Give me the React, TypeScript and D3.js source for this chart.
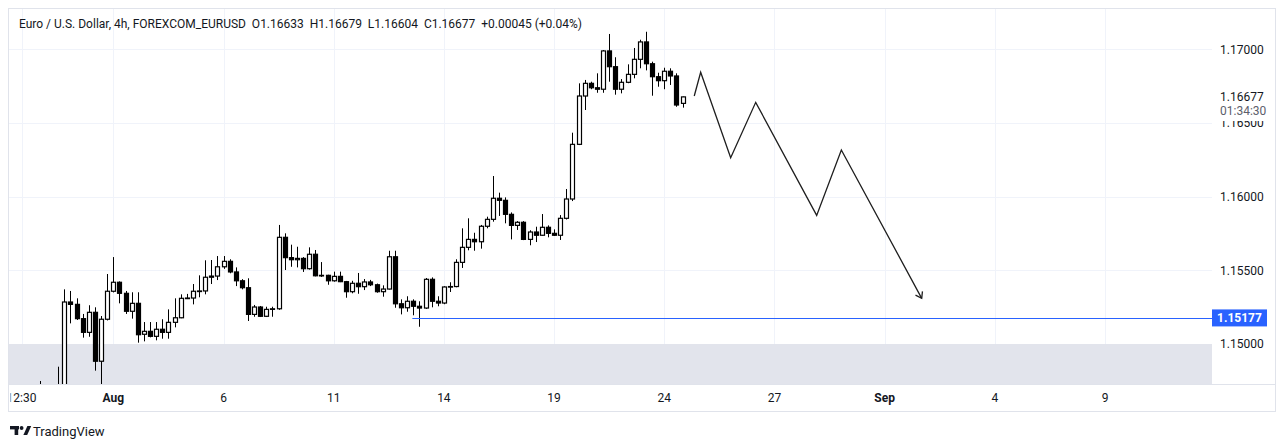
import React, { useEffect, useRef } from 'react';
import * as d3 from 'd3';

// 4h candles, bar index 0 = first bar on screen (the first few sit below the visible range)
const opens = [
  1.1432, 1.1425, 1.1418, 1.1409, 1.1414, 1.1441, 1.1437, 1.1431, 1.1405, 1.15285,
  1.15269, 1.15172, 1.15079, 1.15215, 1.14883, 1.15168, 1.15358, 1.15419, 1.15344, 1.15222,
  1.15276, 1.15066, 1.15086, 1.15052, 1.15100, 1.15079, 1.15147, 1.15178, 1.15310, 1.15312,
  1.15358, 1.15360, 1.15453, 1.15461, 1.15524, 1.15561, 1.15489, 1.15429, 1.15382, 1.15201,
  1.15251, 1.15188, 1.15235, 1.15239, 1.15724, 1.15586, 1.15572, 1.15581, 1.15511, 1.15609,
  1.15463, 1.15466, 1.15429, 1.15459, 1.15423, 1.15355, 1.15412, 1.15389, 1.15421, 1.15402,
  1.15355, 1.15373, 1.15592, 1.15273, 1.15246, 1.15290, 1.15256, 1.15244, 1.15439, 1.15290,
  1.15278, 1.15387, 1.15390, 1.15554, 1.15656, 1.15710, 1.15694, 1.15799, 1.15846, 1.15989,
  1.15975, 1.15880, 1.15805, 1.15826, 1.15710, 1.15760, 1.15738, 1.15792, 1.15751, 1.15738,
  1.15853, 1.15984, 1.16355, 1.16683, 1.16769, 1.16739, 1.16729, 1.16989, 1.16882, 1.16729,
  1.16776, 1.16830, 1.16932, 1.17050, 1.16902, 1.16814, 1.16787, 1.16851, 1.16819, 1.16633,
];
const highs = [
  1.1441, 1.1436, 1.1430, 1.1420, 1.14749, 1.1462, 1.1450, 1.14846, 1.15371, 1.15360,
  1.15310, 1.15204, 1.15263, 1.15249, 1.15190, 1.15475, 1.15590, 1.15425, 1.15360, 1.15351,
  1.15351, 1.15149, 1.15149, 1.15149, 1.15168, 1.15235, 1.15310, 1.15337, 1.15340, 1.15407,
  1.15466, 1.15568, 1.15570, 1.15597, 1.15597, 1.15575, 1.15520, 1.15440, 1.15446, 1.15265,
  1.15258, 1.15253, 1.15253, 1.15808, 1.15751, 1.15674, 1.15660, 1.15590, 1.15656, 1.15638,
  1.15556, 1.15470, 1.15491, 1.15491, 1.15428, 1.15429, 1.15482, 1.15441, 1.15435, 1.15410,
  1.15398, 1.15633, 1.15633, 1.15303, 1.15324, 1.15303, 1.15290, 1.15448, 1.15452, 1.15324,
  1.15392, 1.15419, 1.15575, 1.15785, 1.15853, 1.15755, 1.15808, 1.15864, 1.16140, 1.16027,
  1.15995, 1.15893, 1.15834, 1.15834, 1.15772, 1.15796, 1.15882, 1.15805, 1.15778, 1.15875,
  1.16052, 1.16434, 1.16769, 1.16792, 1.16780, 1.16837, 1.16995, 1.17104, 1.16946, 1.16798,
  1.16898, 1.17009, 1.17065, 1.17119, 1.16916, 1.16841, 1.16875, 1.16871, 1.16837, 1.16679,
];
const lows = [
  1.1421, 1.1412, 1.1401, 1.1392, 1.1408, 1.1430, 1.1422, 1.1396, 1.1398, 1.15140,
  1.15163, 1.15043, 1.15049, 1.14819, 1.1465, 1.15160, 1.15350, 1.15276, 1.15204, 1.15172,
  1.15009, 1.15018, 1.15045, 1.15025, 1.15036, 1.15036, 1.15113, 1.15175, 1.15305, 1.15269,
  1.15317, 1.15337, 1.15407, 1.15434, 1.15510, 1.15480, 1.15393, 1.15371, 1.15156, 1.15185,
  1.15183, 1.15183, 1.15185, 1.15232, 1.15502, 1.15524, 1.15520, 1.15489, 1.15505, 1.15459,
  1.15455, 1.15402, 1.15423, 1.15420, 1.15314, 1.15344, 1.15341, 1.15366, 1.15393, 1.15348,
  1.15321, 1.15370, 1.15246, 1.15201, 1.15219, 1.15195, 1.15117, 1.15238, 1.15249, 1.15256,
  1.15270, 1.15353, 1.15385, 1.15516, 1.15636, 1.15633, 1.15647, 1.15785, 1.15830, 1.15869,
  1.15819, 1.15710, 1.15774, 1.15705, 1.15670, 1.15692, 1.15735, 1.15724, 1.15733, 1.15706,
  1.15845, 1.15970, 1.16350, 1.16588, 1.16729, 1.16705, 1.16705, 1.16780, 1.16692, 1.16701,
  1.16770, 1.16803, 1.16871, 1.16857, 1.16685, 1.16746, 1.16729, 1.16758, 1.16610, 1.16604,
];
const closes = [
  1.1425, 1.1418, 1.1409, 1.1414, 1.1441, 1.1437, 1.1431, 1.1405, 1.15285, 1.15269,
  1.15172, 1.15079, 1.15215, 1.14883, 1.15168, 1.15358, 1.15419, 1.15344, 1.15222, 1.15276,
  1.15063, 1.15086, 1.15052, 1.15100, 1.15079, 1.15147, 1.15178, 1.15310, 1.15312, 1.15358,
  1.15360, 1.15453, 1.15461, 1.15524, 1.15561, 1.15489, 1.15429, 1.15382, 1.15201, 1.15251,
  1.15188, 1.15235, 1.15239, 1.15724, 1.15586, 1.15572, 1.15581, 1.15511, 1.15609, 1.15463,
  1.15466, 1.15429, 1.15459, 1.15423, 1.15355, 1.15412, 1.15389, 1.15421, 1.15402, 1.15355,
  1.15373, 1.15592, 1.15273, 1.15246, 1.15290, 1.15256, 1.15244, 1.15439, 1.15290, 1.15278,
  1.15387, 1.15390, 1.15554, 1.15656, 1.15710, 1.15694, 1.15799, 1.15846, 1.15989, 1.15975,
  1.15880, 1.15805, 1.15826, 1.15710, 1.15760, 1.15738, 1.15792, 1.15751, 1.15738, 1.15853,
  1.15984, 1.16355, 1.16683, 1.16769, 1.16739, 1.16729, 1.16989, 1.16882, 1.16729, 1.16776,
  1.16830, 1.16932, 1.17050, 1.16902, 1.16814, 1.16787, 1.16851, 1.16819, 1.16622, 1.16677,
];

// time axis
const timeTickIndex = [1, 16, 34, 52, 70, 88, 106, 124, 142, 160, 178];
const timeTickLabels = ['12:30', 'Aug', '6', '11', '14', '19', '24', '27', 'Sep', '4', '9'];
const monthLabels = ['Aug', 'Sep'];

// price axis
const priceTicks = [1.15, 1.155, 1.16, 1.165, 1.17];

// hand-drawn projection (bar index, price)
const zigIndex = [110.9, 111.95, 116.85, 120.94, 130.9, 134.93, 148.06];
const zigPrice = [1.16683, 1.16844, 1.16264, 1.1664, 1.15873, 1.16317, 1.1531];

// horizontal ray
const levelPrice = 1.15177;
const levelStartIndex = 64.85;
const zoneTop = 1.15;

const lastPrice = '1.16677';
const countdown = '01:34:30';
const titleText = 'Euro / U.S. Dollar, 4h, FOREXCOM_EURUSD  O1.16633  H1.16679  L1.16604  C1.16677  +0.00045 (+0.04%)';

const W = 1286;
const H = 447;
const FONT = 'Roboto, "Noto Sans", sans-serif';
const TEXT = '#131722';

const App: React.FC = () => {
  const svgRef = useRef<SVGSVGElement>(null);

  useEffect(() => {
    if (!svgRef.current) return;
    const svg = d3.select(svgRef.current);
    svg.selectAll('*').remove();

    const plot = { left: 9, top: 9, right: 1212, bottom: 384 };

    const x = d3.scaleLinear().domain([1, 178]).range([21.5, 1105]);
    const y = d3.scaleLinear().domain([1.15, 1.17]).range([344, 49.3]);
    const crisp = (v: number) => Math.round(v) + 0.5;

    svg.append('rect').attr('width', W).attr('height', H).attr('fill', '#fff');

    // chart frame
    svg.append('rect')
      .attr('x', 8.5).attr('y', 8.5)
      .attr('width', 1267).attr('height', 403)
      .attr('fill', 'none').attr('stroke', '#e0e3eb');

    const defs = svg.append('defs');
    defs.append('clipPath').attr('id', 'plotClip')
      .append('rect')
      .attr('x', plot.left).attr('y', plot.top)
      .attr('width', plot.right - plot.left).attr('height', plot.bottom - plot.top);
    defs.append('clipPath').attr('id', 'axisClip')
      .append('rect')
      .attr('x', 10.5).attr('y', plot.bottom)
      .attr('width', plot.right - 10.5).attr('height', 27);

    const g = svg.append('g').attr('clip-path', 'url(#plotClip)');

    // grid
    g.selectAll('line.vgrid')
      .data(timeTickIndex)
      .enter().append('line')
      .attr('x1', d => crisp(x(d))).attr('x2', d => crisp(x(d)))
      .attr('y1', plot.top).attr('y2', plot.bottom)
      .attr('stroke', '#f0f3fa');
    g.selectAll('line.hgrid')
      .data(priceTicks)
      .enter().append('line')
      .attr('x1', plot.left).attr('x2', plot.right)
      .attr('y1', d => crisp(y(d))).attr('y2', d => crisp(y(d)))
      .attr('stroke', '#f0f3fa');

    // grey zone below 1.15
    g.append('rect')
      .attr('x', plot.left).attr('y', y(zoneTop))
      .attr('width', plot.right - plot.left).attr('height', plot.bottom - y(zoneTop))
      .attr('fill', '#e0e3eb').attr('opacity', 0.95);

    // candles
    const bars = d3.range(opens.length);
    const candle = g.selectAll('g.candle')
      .data(bars)
      .enter().append('g');

    candle.append('line')
      .attr('x1', i => crisp(x(i))).attr('x2', i => crisp(x(i)))
      .attr('y1', i => y(highs[i])).attr('y2', i => y(lows[i]))
      .attr('stroke', '#000').attr('stroke-width', 1);

    candle.append('rect')
      .attr('x', i => Math.round(x(i)) - 1.5)
      .attr('y', i => y(Math.max(opens[i], closes[i])))
      .attr('width', 4)
      .attr('height', i => Math.max(0.6, Math.abs(y(opens[i]) - y(closes[i]))))
      .attr('fill', i => (closes[i] >= opens[i] ? '#fff' : '#000'))
      .attr('stroke', '#000').attr('stroke-width', 1.2);

    // horizontal ray
    g.append('line')
      .attr('x1', x(levelStartIndex)).attr('x2', plot.right)
      .attr('y1', crisp(y(levelPrice))).attr('y2', crisp(y(levelPrice)))
      .attr('stroke', '#2962ff').attr('stroke-width', 1);

    // projection path with arrow
    const pts: [number, number][] = zigIndex.map((d, k) => [x(d), y(zigPrice[k])]);
    g.append('path')
      .attr('d', d3.line()(pts))
      .attr('fill', 'none').attr('stroke', '#1e1e1e').attr('stroke-width', 1.3)
      .attr('stroke-linejoin', 'miter');
    const [tx, ty] = pts[pts.length - 1];
    const [px, py] = pts[pts.length - 2];
    const ang = Math.atan2(ty - py, tx - px);
    const wing = 7;
    const arrowPts: [number, number][] = [
      [tx + wing * Math.cos(ang + Math.PI - 0.6), ty + wing * Math.sin(ang + Math.PI - 0.6)],
      [tx, ty],
      [tx + wing * Math.cos(ang + Math.PI + 0.6), ty + wing * Math.sin(ang + Math.PI + 0.6)],
    ];
    g.append('path')
      .attr('d', d3.line()(arrowPts))
      .attr('fill', 'none').attr('stroke', '#1e1e1e').attr('stroke-width', 1.3);

    // line between plot and time axis
    svg.append('line')
      .attr('x1', plot.left).attr('x2', 1275)
      .attr('y1', plot.bottom + 0.5).attr('y2', plot.bottom + 0.5)
      .attr('stroke', '#e0e3eb');

    // time axis labels
    svg.append('g').attr('clip-path', 'url(#axisClip)')
      .selectAll('text')
      .data(timeTickIndex)
      .enter().append('text')
      .attr('x', d => x(d))
      .attr('y', 402)
      .attr('text-anchor', 'middle')
      .attr('font-family', FONT)
      .attr('font-size', 12)
      .attr('font-weight', (d, k) => (monthLabels.includes(timeTickLabels[k]) ? 'bold' : 'normal'))
      .attr('fill', TEXT)
      .text((d, k) => timeTickLabels[k]);

    // price axis labels
    svg.selectAll('text.price')
      .data(priceTicks)
      .enter().append('text')
      .attr('x', 1220)
      .attr('y', d => y(d))
      .attr('dy', '0.36em')
      .attr('font-family', FONT)
      .attr('font-size', 12)
      .attr('fill', TEXT)
      .text(d => d.toFixed(5));

    // last price + countdown (its backdrop covers the top of the 1.16500 label)
    const lastY = y(+lastPrice);
    svg.append('rect')
      .attr('x', 1213).attr('y', lastY - 8)
      .attr('width', 60).attr('height', 121 - (lastY - 8))
      .attr('fill', '#fff');
    svg.append('text')
      .attr('x', 1220).attr('y', lastY).attr('dy', '0.36em')
      .attr('font-family', FONT).attr('font-size', 12).attr('fill', TEXT)
      .text(lastPrice);
    svg.append('text')
      .attr('x', 1220).attr('y', lastY + 14).attr('dy', '0.36em')
      .attr('font-family', FONT).attr('font-size', 12).attr('fill', '#5d606b')
      .text(countdown);

    // level label
    const lvY = y(levelPrice);
    svg.append('rect')
      .attr('x', 1212).attr('y', lvY - 8.5)
      .attr('width', 55).attr('height', 17)
      .attr('fill', '#2962ff');
    svg.append('text')
      .attr('x', 1239.5).attr('y', lvY).attr('dy', '0.36em')
      .attr('text-anchor', 'middle')
      .attr('font-family', FONT).attr('font-size', 12).attr('font-weight', 'bold')
      .attr('fill', '#fff')
      .text(levelPrice.toFixed(5));

    // title legend
    svg.append('text')
      .attr('x', 19).attr('y', 28)
      .attr('font-family', FONT).attr('font-size', 12)
      .attr('fill', TEXT)
      .style('white-space', 'pre')
      .text(titleText);

    // TradingView mark
    const logo = svg.append('g').attr('fill', TEXT);
    logo.append('rect').attr('x', 10).attr('y', 426).attr('width', 9).attr('height', 3.4);
    logo.append('rect').attr('x', 14.6).attr('y', 426).attr('width', 3.6).attr('height', 9);
    logo.append('circle').attr('cx', 21.6).attr('cy', 428).attr('r', 1.9);
    logo.append('path').attr('d', 'M23.4 435 L27.4 426 L31.2 426 L27.2 435 Z');
    svg.append('text')
      .attr('x', 33).attr('y', 435.5)
      .attr('font-family', FONT).attr('font-size', 13)
      .attr('fill', TEXT)
      .text('TradingView');
  }, []);

  return (
    <svg
      ref={svgRef}
      width={W}
      height={H}
      style={{ position: 'absolute', left: 0, top: 0, display: 'block' }}
    />
  );
};

export default App;
